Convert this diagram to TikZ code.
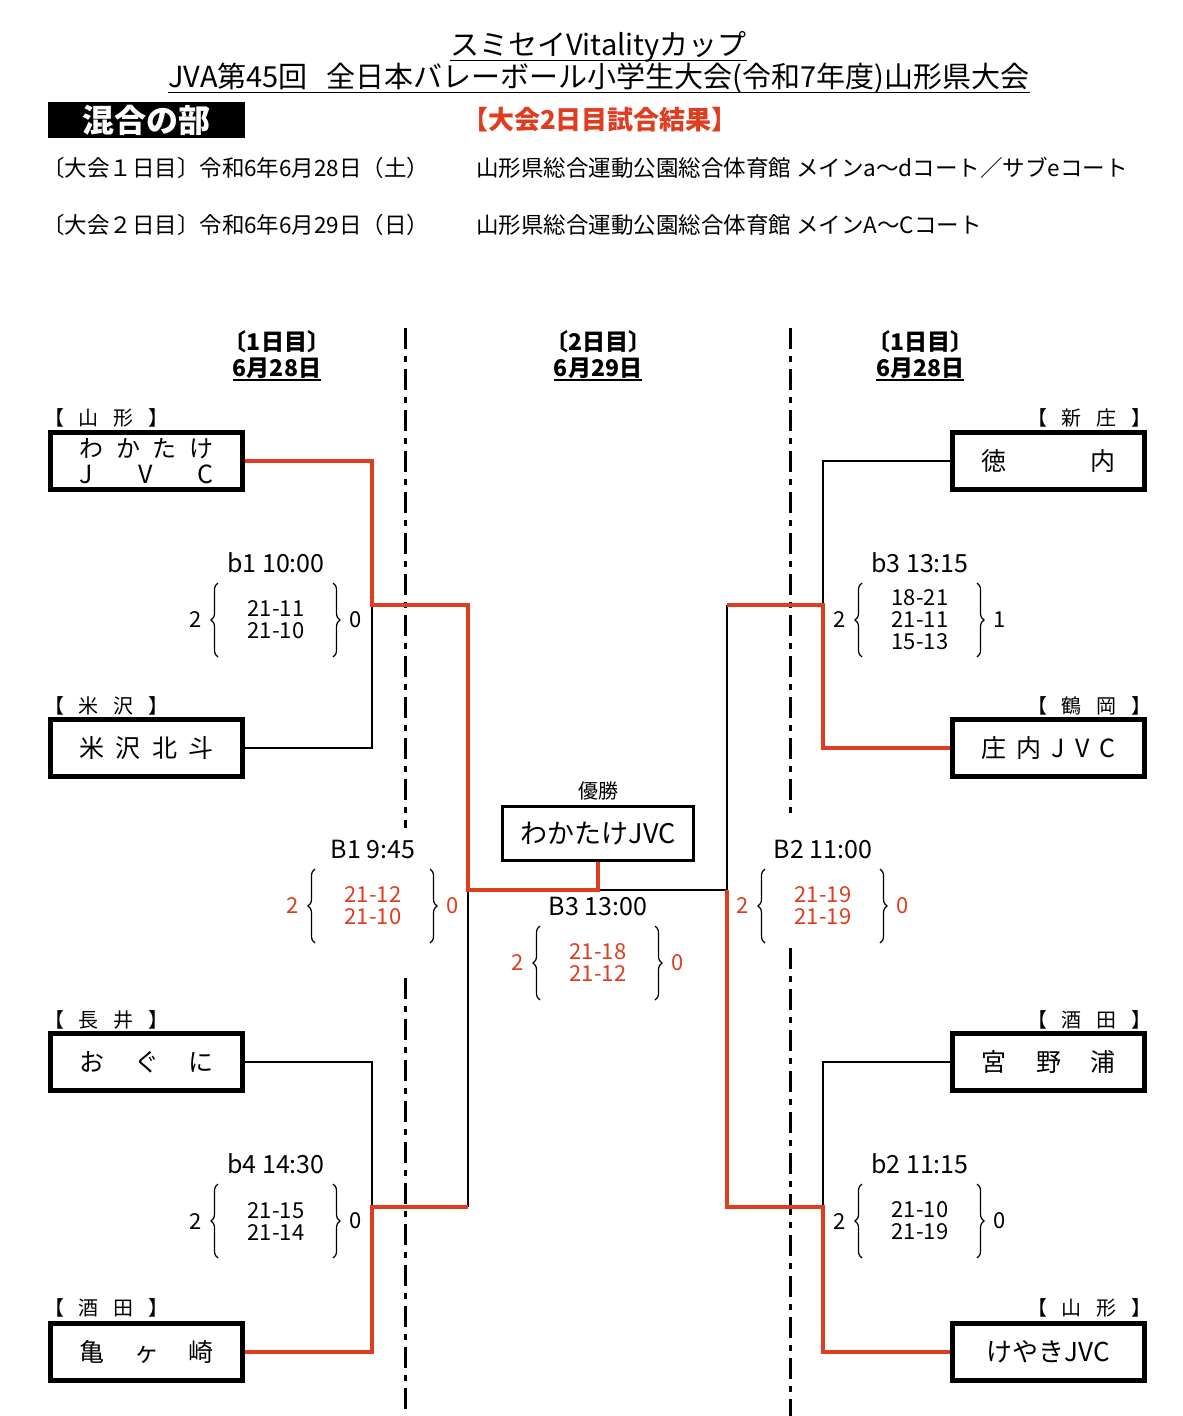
\documentclass[tikz,border=0pt]{standalone}
\usepackage{fontspec}
\setmainfont{Noto Sans CJK JP}
\usetikzlibrary{decorations.pathreplacing}
\definecolor{winred}{RGB}{224,60,32}
\newcommand{\fs}[1]{\fontsize{#1}{#1}\selectfont}
\newcommand{\spread}[1]{\makebox[134pt]{#1}}
\newcommand{\pref}[2]{\makebox[124pt]{【\hfill #1\hfill #2\hfill 】}}
\newcommand{\scoreblock}[8]{%
	\node[gamelabel] (#1-label) at (#2,#3-57) {#4};
	\node[setscore, text=#8] (#1-sets) at (#2,#3) {#6};
	\node[matchscore, text=#8] (#1-left) at (#2-80,#3) {#5};
	\node[matchscore, text=#8] (#1-right) at (#2+80,#3) {#7};
	\draw[setbrace] (#2-58,#3+37) -- (#2-58,#3-37);
	\draw[setbrace] (#2+57,#3-37) -- (#2+57,#3+37);
}
\begin{document}
\begin{tikzpicture}[x=1pt, y=-1pt, every node/.style={inner sep=0pt, outer sep=0pt},
		team/.style={draw, line width=5pt, outer sep=2.5pt, minimum width=192pt, minimum height=57pt, align=center, font=\fs{25}},
		region/.style={anchor=west, font=\fs{20}},
		champion/.style={draw, line width=3pt, outer sep=1.5pt, minimum width=191pt, minimum height=54pt, font=\fs{27}},
		gamelabel/.style={font=\fs{25}},
		setscore/.style={align=center, font=\fs{22}},
		matchscore/.style={font=\fs{22}},
		setbrace/.style={decorate, decoration={brace, amplitude=7pt}, line width=1.2pt},
		dayline/.style={line width=3pt, dash pattern=on 21pt off 7pt on 6pt off 7pt},
		dayhead/.style={font=\bfseries\fs{23}},
		infoline/.style={anchor=west, font=\fs{22.5}}]
	\tikzset{ lose/.style = {line width=2.7pt}, win/.style = {line width=4.7pt, draw=winred} }
	\path[use as bounding box, fill=white] (0,0) rectangle (1183,1416);

	\node[font=\fs{29}] (cupname) at (598.5,47) {スミセイVitalityカップ};
	\node[font=\fs{29}] (tourname) at (599,78) {JVA第45回\hspace{19pt}全日本バレーボール小学生大会(令和7年度)山形県大会};
	\draw[line width=1.5pt] ([yshift=-5pt]cupname.base west) -- ([yshift=-5pt]cupname.base east);
	\draw[line width=1.5pt] ([yshift=-5pt]tourname.base west) -- ([yshift=-5pt]tourname.base east);
	\node[fill=black, text=white, minimum width=197pt, minimum height=36pt, font=\bfseries\fs{32}] (division) at (146.5,120) {混合の部};
	\node[text=winred, font=\bfseries\fs{26}] (results) at (600,120) {【大会2日目試合結果】};
	\node[infoline] (day1) at (42,168) {〔大会１日目〕令和6年6月28日（土）};
	\node[infoline] (day1venue) at (476,168) {山形県総合運動公園総合体育館 メインa～dコート／サブeコート};
	\node[infoline] (day2) at (42,225) {〔大会２日目〕令和6年6月29日（日）};
	\node[infoline] (day2venue) at (476,225) {山形県総合運動公園総合体育館 メインA～Cコート};

	\node[dayhead] (left-day) at (277,342) {〔1日目〕};
	\node[dayhead] (left-date) at (277,368) {6月28日};
	\node[dayhead] (mid-day) at (598,342) {〔2日目〕};
	\node[dayhead] (mid-date) at (598,368) {6月29日};
	\node[dayhead] (right-day) at (920,342) {〔1日目〕};
	\node[dayhead] (right-date) at (920,368) {6月28日};
	\foreach \d in {left-date, mid-date, right-date}
		\draw[line width=1.5pt] ([yshift=-4pt]\d.base west) -- ([yshift=-4pt]\d.base east);

	\draw[dayline] (405,328) -- (405,828) (405,978) -- (405,1416);
	\draw[dayline] (790,328) -- (790,815) (790,948) -- (790,1416);

	\node[region] (wakatake-pref) at (44,418) {\pref{山}{形}};
	\node[team] (wakatake) at (146.5,461) {\fs{24}\spread{わ\hfill か\hfill た\hfill け}\\[1pt]\spread{J\hfill V\hfill C}};
	\node[region] (yonezawa-pref) at (44,706) {\pref{米}{沢}};
	\node[team] (yonezawa) at (146.5,748) {\spread{米\hfill 沢\hfill 北\hfill 斗}};
	\node[region] (oguni-pref) at (44,1020) {\pref{長}{井}};
	\node[team] (oguni) at (146.5,1062) {\spread{お\hfill ぐ\hfill に}};
	\node[region] (kamegasaki-pref) at (44,1308) {\pref{酒}{田}};
	\node[team] (kamegasaki) at (146.5,1352) {\spread{亀\hfill ヶ\hfill 崎}};

	\node[region] (tokunai-pref) at (1027,418) {\pref{新}{庄}};
	\node[team] (tokunai) at (1048.5,461) {\spread{徳\hfill 内}};
	\node[region] (shonai-pref) at (1027,706) {\pref{鶴}{岡}};
	\node[team] (shonai) at (1048.5,748) {\spread{庄\hfill 内\hfill J\hfill V\hfill C}};
	\node[region] (miyanoura-pref) at (1027,1020) {\pref{酒}{田}};
	\node[team] (miyanoura) at (1048.5,1062) {\spread{宮\hfill 野\hfill 浦}};
	\node[region] (keyaki-pref) at (1027,1308) {\pref{山}{形}};
	\node[team] (keyaki) at (1048.5,1352) {\fs{26}けやきJVC};

	\node[font=\fs{20}] (champion-title) at (598,791) {優勝};
	\node[champion] (champion) at (598,833.5) {わかたけJVC};

	\scoreblock{b1}{276}{620}{b1 10:00}{2}{21-11\\21-10}{0}{black}
	\scoreblock{b4}{276}{1221}{b4 14:30}{2}{21-15\\21-14}{0}{black}
	\scoreblock{b3}{920}{620}{b3 13:15}{2}{18-21\\21-11\\15-13}{1}{black}
	\scoreblock{b2}{920}{1221}{b2 11:15}{2}{21-10\\21-19}{0}{black}
	\scoreblock{B1}{373}{906}{B1 9:45}{2}{21-12\\21-10}{0}{winred}
	\scoreblock{B2}{823}{906}{B2 11:00}{2}{21-19\\21-19}{0}{winred}
	\scoreblock{B3}{598}{963}{B3 13:00}{2}{21-18\\21-12}{0}{winred}

	\coordinate (b1-join) at (372,605);
	\coordinate (b4-join) at (372,1207);
	\coordinate (b3-join) at (823,605);
	\coordinate (b2-join) at (823,1207);
	\coordinate (B1-top) at (468,605);
	\coordinate (B1-bottom) at (468,1207);
	\coordinate (B1-join) at (468,890);
	\coordinate (B2-top) at (727,605);
	\coordinate (B2-bottom) at (727,1207);
	\coordinate (B2-join) at (727,890);
	\coordinate (B3-join) at (598,890);

	\draw[lose] (yonezawa.east) -| (b1-join);
	\draw[lose] (oguni.east) -| (b4-join);
	\draw[lose] (tokunai.west) -| (b3-join);
	\draw[lose] (miyanoura.west) -| (b2-join);
	\draw[lose] (B1-bottom) -- (B1-join);
	\draw[lose] (B2-top) -- (B2-join) -- (B3-join);
	\draw[win] (wakatake.east) -| (b1-join) -- (B1-top) -- (B1-join) -- (B3-join) -- (champion.south);
	\draw[win] (kamegasaki.east) -| (b4-join) -- (B1-bottom);
	\draw[win] (shonai.west) -| (b3-join) -- (B2-top);
	\draw[win] (keyaki.west) -| (b2-join) -- (B2-bottom) -- (B2-join);
\end{tikzpicture}
\end{document}
